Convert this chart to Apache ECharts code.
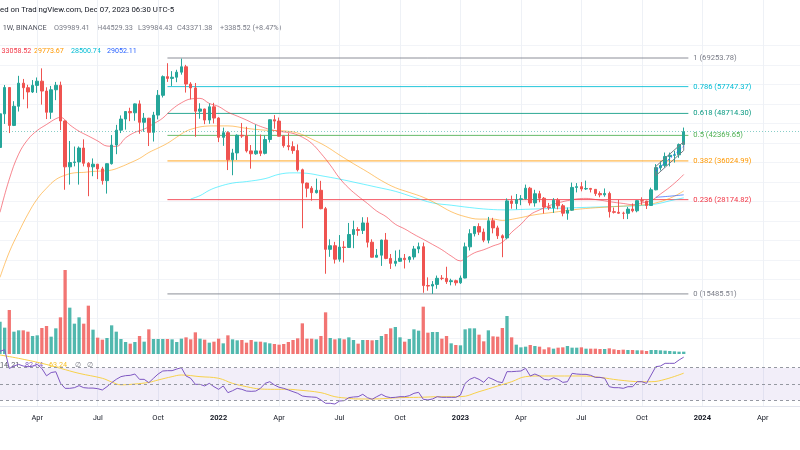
<!DOCTYPE html>
<html><head><meta charset="utf-8">
<script src="https://cdn.jsdelivr.net/npm/echarts/dist/echarts.min.js"></script>
<style>html,body{margin:0;padding:0;background:#fff}#c{width:800px;height:450px}</style>
</head><body><div id="c"></div>
<script>
// ---- weekly candles (index 0 = week of 2021-02-08, last = week of 2023-12-04) ----
const firstWeek = '2021-02-08';
const totalWeeks = 173; // axis span incl. empty future weeks
const openP = [39250,48580,57410,45135,50970,59020,57350,55820,58200,59770,56150,49070,56600,58240,46430,34700,35660,35800,39100,35500,34700,35290,34250,31780,35400,39850,43800,47000,49300,48900,51750,46050,47250,43200,48200,54650,61530,60850,61300,63300,65500,58700,57270,49400,50100,46700,50800,
47300,41850,43100,36280,37900,42400,42200,38400,37700,38400,37800,41280,46800,46400,42150,39700,39450,38470,34050,31300,30300,29450,29900,26600,20550,21030,19300,20850,20800,22580,23300,23180,24300,21500,19550,19800,21800,19400,18800,19050,19420,19260,19580,20600,20900,16330,16280,16450,17100,17090,16740,16840,16620,17130,20880,22700,23750,22930,21780,24630,23550,22400,22100,27950,27500,28200,28330,30300,27600,29250,28430,26900,26750,28070,27100,25850,26350,30450,30600,30150,30250,30080,29280,29050,29300,26100,26000,25850,25830,26530,26250,27990,27920,27150,29990,34530,35010,37060,37360,37450,39989.41];
const closeP = [48580,57410,45135,50970,59020,57350,55820,58200,59770,56150,49070,56600,58240,46430,34700,35660,35800,39100,35500,34700,35290,34250,31780,35400,39850,43800,47000,49300,48900,51750,46050,47250,43200,48200,54650,61530,60850,61300,63300,65500,58700,57270,49400,50100,46700,50800,47300,
41850,43100,36280,37900,42400,42200,38400,37700,38400,37800,41280,46800,46400,42150,39700,39450,38470,34050,31300,30300,29450,29900,26600,20550,21030,19300,20850,20800,22580,23300,23180,24300,21500,19550,19800,21800,19400,18800,19050,19420,19260,19580,20600,20900,16330,16280,16450,17100,17090,16740,16840,16620,17130,20880,22700,23750,22930,21780,24630,23550,22400,22100,27950,27500,28200,28330,30300,27600,29250,28430,26900,26750,28070,27100,25850,26350,30450,30600,30150,30250,30080,29280,29050,29300,26100,26000,25850,25830,26530,26250,27990,27920,27150,29990,34530,35010,37060,37360,37450,39970,43371.38];
const highP = [49700,58350,57530,52640,61840,60630,58420,60200,61200,64850,57500,58000,59500,59600,46600,40900,39480,39500,41330,35750,36600,35300,34700,34500,42450,45300,48100,49400,50500,51900,52920,48850,47350,49200,56500,62000,67000,63700,64270,69000,66300,59400,59100,51950,50200,51900,52100,
47550,44500,43500,38900,42650,45850,44750,39850,45400,42600,42300,46900,48200,47450,42400,42950,40800,40000,34300,31400,30700,32200,31750,26900,21900,21550,22500,21650,24300,24650,23650,25200,25200,21900,20600,21850,22800,19950,20400,20500,19950,19700,21000,21450,21450,17200,16800,17400,17450,18400,17050,16950,17400,21450,23350,23800,24250,23450,25250,25100,23880,22600,28400,28900,29200,29000,31000,30550,30000,29800,28650,27600,28450,28450,27400,26800,31400,31300,31500,31800,30350,30100,29700,30250,29650,26800,28150,26100,26900,27500,28050,28600,27980,30400,35300,35950,38000,37980,38400,40250,44529.33];
const lowP = [37990,45570,43000,44950,49300,53270,50310,55450,55500,51500,47000,47040,53000,43820,30000,31000,34800,31000,34800,28800,32700,32100,31000,29280,35200,37600,43000,43950,46370,46500,42800,43370,39600,40750,46900,53900,59500,58000,59400,62300,55600,53250,42000,47100,45500,45600,45700,
40600,39650,34000,32900,36250,41700,38000,34300,37450,37150,37550,40500,44200,42100,39200,38550,37700,33700,23500,28600,28000,29300,26500,17600,19600,18780,19000,18900,20750,20700,22400,22650,20800,19500,19520,18500,19300,18150,18450,19000,18200,18900,19250,20050,15600,15800,15480,16000,16900,16500,16350,16330,16500,17100,20400,22300,22500,21500,21350,22750,21950,19550,21900,26600,26500,27200,28200,27150,26950,27700,25800,26400,25900,26500,25350,24800,26250,29500,29700,29950,29500,28850,28600,28700,25150,25800,25750,24900,24900,26000,26000,27250,26550,27100,29900,33900,34550,34800,35650,36750,39984.43];
// volume, thousand BTC
const volumeK = [485,395,660,335,355,355,335,270,280,390,420,260,385,550,1260,695,455,550,455,725,365,245,215,240,430,335,225,180,155,180,270,185,370,225,225,225,225,220,180,230,250,220,325,230,215,170,185,
230,160,280,220,205,210,170,210,185,185,175,160,150,140,150,180,210,235,460,230,230,220,270,625,240,220,235,220,250,210,155,210,210,205,210,270,300,385,405,250,185,225,370,350,710,320,330,330,230,270,160,135,130,370,385,385,290,190,355,265,260,390,570,250,140,100,110,135,120,110,70,100,80,95,100,120,95,95,100,80,80,80,75,75,85,70,60,65,60,60,55,55,45,60,60,55,50,45,40,35,35];
// RSI(14) per week
const rsiValues = [90,92,69,72,74,72,71,72,74,69,60,64,65,51,44.7,44.7,45.5,48,45.5,45,45,44.3,42.7,46.7,51.6,55.7,59,60.2,60.6,62.2,55.7,55.7,51.6,57,62.2,65.9,66.3,66.3,68.3,70,59.8,57,49.6,49.6,47.6,50.8,46.7,43.5,47.6,39.4,41.8,44.7,43.5,41.4,41,41.4,44.7,50.8,52.8,48.8,46,44.7,42.7,40.6,38.6,35.3,34.5,34.1,33.7,30.5,26.4,26.4,25.5,29.2,29.6,33.3,34.1,34.5,37.4,33.3,31.3,34.5,37.4,34.5,33.3,33.7,34.5,34.5,35.7,38.6,39.8,31.3,30.5,31.7,34.5,33.7,33.7,33.7,33.7,36.5,50.8,55.7,58.1,55.7,52,58.1,55.7,52.8,51.6,65.1,65.1,65.5,65.9,69.2,59.8,62.2,59.8,55.7,54.9,57.7,55.7,52,52.8,63,62.2,61.8,61.8,60.6,58.1,58.1,57,46.7,45.5,45.5,44.7,46.7,46.7,52.8,52.8,50.8,61,71.2,72,75.3,75.3,75.3,79.4,82.84];
// RSI moving average (read at sample weeks; week numbers relative to 2022-01-03)
const rsiMaWeeks = [-47,-43,-38,-34,-30,-25,-23,-21,-18,-15,-13,-10,-8,-4,0,3,6,9,12,15,17,22,25,28,30,33,39,43,48,52,56,60,63,66,69,73,78,82,86,91,93,96,100];
const rsiMaValues = [85.5,81.4,75.3,69.2,63,57,52.5,49,50,52,54.9,59,61,59,57,50.8,46.7,43.9,43.5,43.5,42.7,39.4,34.5,32.5,31.7,31.7,33.3,33.7,34.5,34.5,40.6,47.6,52.8,59,59.8,59.8,59.8,58.1,54.9,52.8,52.8,55.7,63.24];
// moving averages on price (sample weeks relative to 2022-01-03)
const maRedWeeks = [-47,-45,-43,-41,-39,-37,-35,-34,-32,-30,-28,-26,-24,-22,-20,-18,-16,-14,-12,-10,-8,-6,-4,-2,0,2,4,6,8,10,12,14,16,18,20,22,24,26,28,30,32,34,36,38,40,42,44,46,48,50,52,53,55,57,59,61,63,65,67,69,71,73,75,77,79,81,83,85,87,89,91,93,95,97,99,100];
const maRedValues = [26000,32100,37600,41300,43700,45400,47100,47500,45300,43500,42200,40900,39600,39500,41700,43200,44100,45600,47300,50000,52100,53400,53600,51900,50900,49100,47900,46700,45400,44400,43700,43300,42900,41900,40300,37800,35100,32300,30300,28800,27500,26200,25300,24100,23400,22600,21900,21200,20500,19700,19100,19400,20100,20500,21000,21500,22900,24100,25600,26400,27100,27600,28000,28300,28400,28200,27960,27700,27500,27300,27600,28000,29200,30500,32100,33058.52];
const maOrangeWeeks = [-47,-45,-43,-41,-39,-37,-35,-33,-31,-29,-27,-25,-23,-21,-19,-17,-15,-13,-11,-9,-7,-5,-3,-1,2,6,10,14,17,20,23,26,29,32,35,38,41,44,47,50,53,56,59,61,64,68,72,76,80,84,88,92,94,96,98,100];
const maOrangeValues = [17200,20200,22900,25700,28300,30300,32000,32900,33400,33500,33700,33800,34000,34700,35600,36600,38000,39100,40300,41900,43500,44400,44900,45000,45000,44300,43800,43600,43000,41400,39600,37400,35400,33600,31800,30400,29500,28600,27400,26100,25300,24900,24900,24700,25000,25600,26000,26400,26700,26900,27100,27300,27600,28100,28800,29773.67];
const maCyanWeeks = [-6,-4,-2,0,3,6,10,13,16,19,22,26,30,34,38,42,46,50,54,58,62,66,70,74,78,82,86,90,94,97,100];
const maCyanValues = [28300,28900,29900,30600,31300,31600,32200,33100,33400,33300,32800,32100,31300,30500,29700,28600,27600,27200,26800,26500,26400,26500,26600,26700,26800,26900,27000,27100,27400,27960,28500.74];
const maBlueWeeks = [94,97,100];
const maBlueValues = [28600,28800,29052.11];
// Fibonacci retracement
const fibRatios = ['1','0.786','0.618','0.5','0.382','0.236','0'];
const fibPrices = [69253.78,57747.37,48714.30,42369.65,36024.99,28174.82,15485.51];
const fibColors = ['#787b86','#00bcd4','#089981','#4caf50','#ff9800','#f23645','#787b86'];
const fibStartWeek = -11, fibEndWeek = 101;
// parallel channel drawing
const channelWeeks = [94,100];
const channelUpper = [34800,40700];
const channelLower = [32800,38500];
// axis ticks
const tickWeeks = ['2021-04-05','2021-07-05','2021-10-04','2022-01-03','2022-04-04','2022-07-04','2022-10-03','2023-01-02','2023-04-03','2023-07-03','2023-10-02','2024-01-01','2024-04-01'];
const tickLabels = ['Apr','Jul','Oct','2022','Apr','Jul','Oct','2023','Apr','Jul','Oct','2024','Apr'];
const lastPrice = 43371.38;

// ---- build ----
const OFFSET = 47; // index of 2022-01-03
const weeks = [];
const t0 = Date.parse(firstWeek + 'T00:00:00Z');
for (let k = 0; k < totalWeeks; k++) weeks.push(new Date(t0 + k * 7 * 864e5).toISOString().slice(0, 10));
const W = i => weeks[i + OFFSET];
const candleData = weeks.map((w, k) => k < openP.length ? [openP[k], closeP[k], lowP[k], highP[k]] : '-');
const volData = weeks.map((w, k) => k < volumeK.length ? {value: volumeK[k], itemStyle: {color: closeP[k] >= openP[k] ? 'rgba(38,166,154,0.8)' : 'rgba(239,83,80,0.8)'}} : '-');
const rsiData = weeks.map((w, k) => k < rsiValues.length ? rsiValues[k] : '-');
const pairs = (ws, vs) => ws.map((w, j) => [W(w), vs[j]]);
const isTick = (idx, val) => tickWeeks.indexOf(val) >= 0;
const tickFmt = val => { const j = tickWeeks.indexOf(val); if (j < 0) return ''; const s = tickLabels[j]; return /^\d{4}$/.test(s) ? '{y|' + s + '}' : s; };
const FONT = 'Roboto';

const series = [];
series.push({type:'candlestick', xAxisIndex:0, yAxisIndex:0, data:candleData, barWidth:3,
  itemStyle:{color:'#26a69a', color0:'#ef5350', borderColor:'#26a69a', borderColor0:'#ef5350', borderWidth:1},
  markLine:{silent:true, symbol:['none','none'], label:{show:false}, lineStyle:{type:[1,2], color:'rgba(38,166,154,0.55)', width:1}, data:[{yAxis:lastPrice}]}, z:5});
series.push({type:'bar', xAxisIndex:1, yAxisIndex:1, data:volData, barWidth:3.3, z:1});
const maLine = (ws, vs, color, w) => ({type:'line', xAxisIndex:0, yAxisIndex:0, data:pairs(ws, vs), smooth:0.4, showSymbol:false, connectNulls:true, lineStyle:{color, width:w||1}, z:4});
series.push(maLine(maCyanWeeks, maCyanValues, 'rgba(0,229,255,0.55)'));
series.push(maLine(maOrangeWeeks, maOrangeValues, 'rgba(255,152,0,0.55)'));
series.push(maLine(maRedWeeks, maRedValues, 'rgba(242,54,69,0.6)'));
series.push(maLine(maBlueWeeks, maBlueValues, 'rgba(41,98,255,0.7)'));
fibPrices.forEach((p, j) => {
  series.push({type:'line', xAxisIndex:0, yAxisIndex:0, showSymbol:false, symbol:'none', z:3,
    lineStyle:{color:fibColors[j], width:1, opacity:0.85},
    endLabel:{show:true, distance:5, formatter:fibRatios[j] + ' (' + p.toFixed(2) + ')', color:fibColors[j], fontSize:7.6, fontFamily:FONT},
    data:[[W(fibStartWeek), p], [W(fibEndWeek), p]]});
});
series.push({type:'line', xAxisIndex:0, yAxisIndex:0, showSymbol:false, symbol:'none', z:6, lineStyle:{color:'#787b86', width:1},
  data:[[W(channelWeeks[0]), channelUpper[0]], [W(channelWeeks[1]), channelUpper[1]], [W(channelWeeks[1]), channelLower[1]], [W(channelWeeks[0]), channelLower[0]], [W(channelWeeks[0]), channelUpper[0]]]});
series.push({type:'line', xAxisIndex:0, yAxisIndex:0, showSymbol:false, symbol:'none', z:6, lineStyle:{color:'#2962ff', width:1, type:[2,2]},
  data:[[W(channelWeeks[0]), Math.sqrt(channelUpper[0]*channelLower[0])], [W(channelWeeks[1]), Math.sqrt(channelUpper[1]*channelLower[1])]]});
series.push({type:'line', xAxisIndex:2, yAxisIndex:2, data:rsiData, showSymbol:false, lineStyle:{color:'#7e57c2', width:1}, z:4,
  markArea:{silent:true, itemStyle:{color:'rgba(126,87,194,0.1)'}, data:[[{yAxis:30},{yAxis:70}]]},
  markLine:{silent:true, symbol:['none','none'], label:{show:false}, lineStyle:{type:[3,3], color:'#9598a1', width:1}, data:[{yAxis:70},{yAxis:50},{yAxis:30}]}});
series.push({type:'line', xAxisIndex:2, yAxisIndex:2, data:pairs(rsiMaWeeks, rsiMaValues), smooth:0.4, showSymbol:false, lineStyle:{color:'#f7d14a', width:1}, z:3});

const hiddenX = gi => ({type:'category', gridIndex:gi, data:weeks, boundaryGap:false, show:false});
const txt = (x, y, text, fill, size) => ({type:'text', x, y, style:{text, font:(size||7.3) + 'px ' + FONT, fill, verticalAlign:'middle'}});
const option = {
  animation:false,
  backgroundColor:'#ffffff',
  grid:[
    {left:0, right:0, top:40, height:315},
    {left:0, right:0, top:40, height:314},
    {left:0, right:0, top:345, height:61},
    {left:0, right:0, top:0, height:406},
    {left:0, right:0, top:45.5, height:292.5}
  ],
  xAxis:[
    hiddenX(0), hiddenX(1),
    {type:'category', gridIndex:2, data:weeks, boundaryGap:false,
      axisLine:{show:true, lineStyle:{color:'#e0e3eb'}}, axisTick:{show:false},
      axisLabel:{interval:isTick, formatter:tickFmt, color:'#131722', fontSize:7.5, fontFamily:FONT, margin:8, rich:{y:{fontWeight:'bold', fontSize:7.5, fontFamily:FONT, color:'#131722'}}},
      splitLine:{show:false}},
    {type:'category', gridIndex:3, data:weeks, boundaryGap:false, axisLine:{show:false}, axisTick:{show:false}, axisLabel:{show:false},
      splitLine:{show:true, interval:isTick, lineStyle:{color:'#eef1f6', width:1}}},
    hiddenX(4)
  ],
  yAxis:[
    {type:'log', gridIndex:0, min:10507, max:77639, show:false},
    {type:'value', gridIndex:1, min:0, max:4710, show:false},
    {type:'value', gridIndex:2, min:23.09, max:97.71, show:false},
    {type:'value', gridIndex:3, min:0, max:1, show:false},
    {type:'value', gridIndex:4, min:0, max:15, interval:1, axisLine:{show:false}, axisTick:{show:false}, axisLabel:{show:false}, splitLine:{show:true, lineStyle:{color:'#f2f4f8', width:1}}}
  ],
  series,
  graphic:[
    txt(0, 10, 'ed on TradingView.com, Dec 07, 2023 06:30 UTC-5', '#131722', 7.8),
    txt(2.7, 28.5, '1W, BINANCE', '#50535e'),
    txt(54, 28.5, 'O39989.41', '#787b86'),
    txt(97, 28.5, 'H44529.33', '#787b86'),
    txt(138, 28.5, 'L39984.43', '#787b86'),
    txt(177, 28.5, 'C43371.38', '#787b86'),
    txt(220, 28.5, '+3385.52 (+8.47%)', '#787b86'),
    txt(1.5, 51, '33058.52', '#f23645', 7.1),
    txt(34, 51, '29773.67', '#ff9800', 7.1),
    txt(71, 51, '28500.74', '#00bcd4', 7.1),
    txt(107, 51, '29052.11', '#2962ff', 7.1),
    txt(0, 365, '14, 21', '#50535e', 7.2),
    txt(25, 365, '82.84', '#7e57c2', 7.2),
    txt(49, 365, '63.24', '#f7c22c', 7.2),
    txt(75, 365, '\u2205', '#787b86', 7.2),
    txt(87, 365, '\u2205', '#787b86', 7.2)
  ]
};
const chart = echarts.init(document.getElementById('c'), null, {renderer:'canvas'});
chart.setOption(option);
</script>
</body></html>
